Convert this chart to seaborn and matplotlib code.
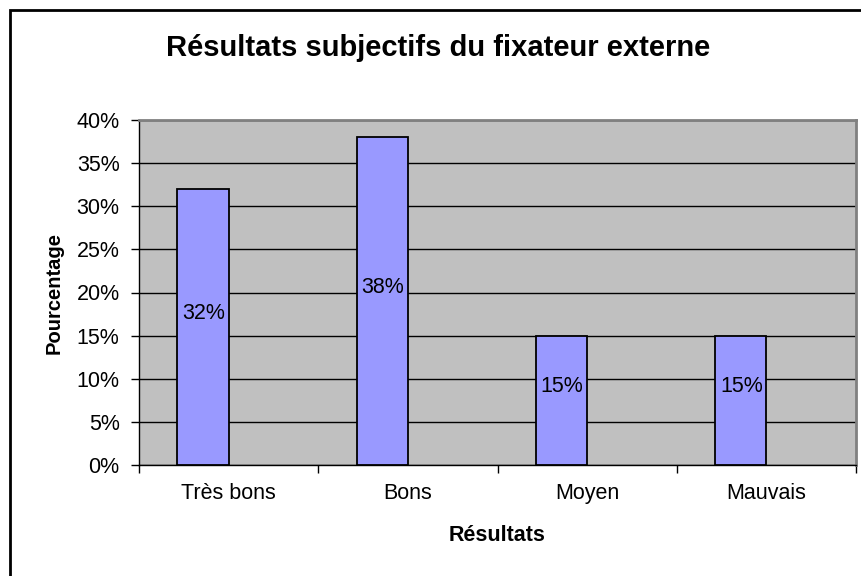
import numpy as np
import pandas as pd
import matplotlib
matplotlib.use("Agg")
import matplotlib.pyplot as plt
from matplotlib.patches import Rectangle
import seaborn as sns

# Chart data
categories = ["Très bons", "Bons", "Moyen", "Mauvais"]
values = [32, 38, 15, 15]
labels = ["32%", "38%", "15%", "15%"]
yticks = [0, 5, 10, 15, 20, 25, 30, 35, 40]

sns.set_style("white")
plt.rcParams['font.family'] = ['Liberation Sans', 'DejaVu Sans']
plt.rcParams['text.color'] = 'black'
plt.rcParams['axes.labelcolor'] = 'black'
plt.rcParams['xtick.color'] = 'black'
plt.rcParams['ytick.color'] = 'black'

# Excel-like clustered column: second (empty) series keeps the bar offset
df = pd.DataFrame({
    "cat": categories + categories,
    "val": values + [np.nan] * len(values),
    "serie": ["S1"] * len(values) + ["S2"] * len(values),
})

fig = plt.figure(figsize=(8.61, 5.76), dpi=100)
ax = fig.add_axes([139 / 861, 1 - 465 / 576, (856 - 139) / 861, (465 - 120) / 576])

sns.barplot(data=df, x="cat", y="val", hue="serie", hue_order=["S1", "S2"],
            order=categories, palette=["#9999FF", "#9999FF"], width=0.572,
            edgecolor="black", linewidth=1.3, saturation=1, legend=False,
            errorbar=None, ax=ax, zorder=3)

ax.set_facecolor("#C0C0C0")
ax.set_xlim(-0.5, 3.5)
ax.set_ylim(0, 40)
ax.set_yticks(yticks)
ax.set_yticklabels([f"{t}%" for t in yticks], fontsize=15.5)
ax.yaxis.grid(True, color="black", linewidth=1)
ax.set_axisbelow(True)
ax.tick_params(axis="y", length=6, width=1, direction="out", left=True, pad=8)

ax.set_xticks(range(len(categories)))
ax.set_xticklabels(categories, fontsize=15.5)
ax.tick_params(axis="x", which="major", length=0, pad=13)
ax.set_xticks(np.arange(-0.5, 4, 1), minor=True)
ax.tick_params(axis="x", which="minor", length=6, width=1, direction="out", bottom=True)

for s in ["left", "bottom"]:
    ax.spines[s].set_color("black")
    ax.spines[s].set_linewidth(1)
for s in ["top", "right"]:
    ax.spines[s].set_color("#808080")
    ax.spines[s].set_linewidth(2)

# data labels inside bars
for i, (v, lab) in enumerate(zip(values, labels)):
    ax.text(i - 0.14, v / 2 + 1.6, lab, ha="center", va="center",
            fontsize=15.5, color="black", zorder=4)

ax.set_xlabel("Résultats", fontsize=15.5, fontweight="bold", labelpad=15)
ax.set_ylabel("Pourcentage", fontsize=14.5, fontweight="bold", labelpad=9)

fig.text(438 / 861, 1 - 48 / 576, "Résultats subjectifs du fixateur externe",
         ha="center", va="center", fontsize=21, fontweight="bold")

# outer chart border
fig.patches.append(Rectangle((10 / 861, -0.1), 1.2, 1 - 10 / 576 + 0.1,
                             transform=fig.transFigure, fill=False,
                             edgecolor="black", linewidth=2))

fig.savefig("out.png", dpi=100)
